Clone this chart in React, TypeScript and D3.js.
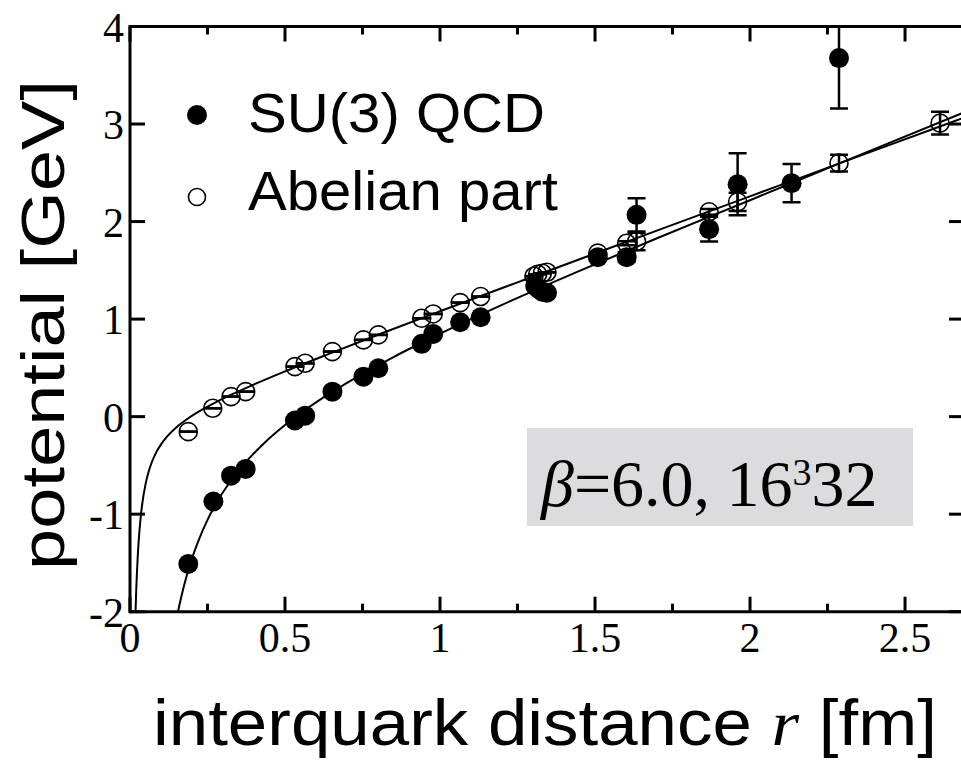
import React from 'react';
import * as d3 from 'd3';

// lattice data: r [fm], V [GeV], error [GeV]
const su3R = [0.188, 0.269, 0.326, 0.373, 0.532, 0.565, 0.653, 0.753, 0.801, 0.941, 0.978, 1.065, 1.131, 1.307, 1.318, 1.33, 1.345, 1.509, 1.602, 1.634, 1.868, 1.96, 2.134, 2.287];
const su3V = [-1.51, -0.87, -0.605, -0.536, -0.04, 0.01, 0.256, 0.41, 0.496, 0.746, 0.848, 0.968, 1.019, 1.34, 1.31, 1.28, 1.27, 1.635, 1.635, 2.069, 1.922, 2.383, 2.394, 3.676];
const su3Err = [0, 0, 0, 0, 0, 0, 0, 0, 0, 0, 0, 0, 0, 0, 0, 0, 0, 0.03, 0.05, 0.17, 0.127, 0.318, 0.197, 0.518];

const abelR = [0.188, 0.267, 0.326, 0.373, 0.532, 0.565, 0.653, 0.753, 0.801, 0.941, 0.978, 1.065, 1.131, 1.303, 1.315, 1.33, 1.345, 1.509, 1.602, 1.634, 1.868, 1.96, 2.287, 2.613];
const abelV = [-0.154, 0.086, 0.205, 0.256, 0.513, 0.547, 0.667, 0.787, 0.838, 1.009, 1.053, 1.169, 1.231, 1.44, 1.46, 1.47, 1.48, 1.676, 1.778, 1.795, 2.1, 2.202, 2.599, 3.009];
const abelErr = [0, 0, 0, 0, 0, 0, 0, 0, 0, 0, 0, 0, 0, 0, 0, 0, 0, 0, 0.02, 0.09, 0.03, 0.094, 0.085, 0.116];

// fit curves
const su3FitR = [0.155, 0.16, 0.17, 0.18, 0.19, 0.2, 0.22, 0.25, 0.28, 0.32, 0.37, 0.43, 0.5, 0.6, 0.7, 0.85, 1.0, 1.2, 1.45, 1.7, 2.0, 2.3, 2.687];
const su3FitV = [-1.996, -1.923, -1.787, -1.665, -1.555, -1.454, -1.278, -1.058, -0.878, -0.68, -0.479, -0.28, -0.086, 0.146, 0.346, 0.611, 0.85, 1.146, 1.495, 1.829, 2.219, 2.612, 3.115];
const abelFitR = [0.018, 0.02, 0.022, 0.025, 0.03, 0.035, 0.04, 0.05, 0.06, 0.07, 0.085, 0.1, 0.12, 0.15, 0.18, 0.22, 0.27, 0.33, 0.4, 0.5, 0.65, 0.8, 1.0, 1.25, 1.5, 1.8, 2.1, 2.4, 2.687];
const abelFitV = [-1.989, -1.79, -1.627, -1.431, -1.19, -1.015, -0.883, -0.695, -0.566, -0.47, -0.364, -0.284, -0.202, -0.108, -0.034, 0.049, 0.136, 0.23, 0.33, 0.464, 0.654, 0.839, 1.08, 1.377, 1.673, 2.025, 2.376, 2.727, 3.062];

const xMajor = [0, 0.5, 1, 1.5, 2, 2.5];
const xMinor = [0.25, 0.75, 1.25, 1.75, 2.25];
const xLabels = ['0', '0.5', '1', '1.5', '2', '2.5'];
const yMajor = [-2, -1, 0, 1, 2, 3, 4];
const yLabels = ['-2', '-1', '0', '1', '2', '3', '4'];

const W = 961;
const H = 760;
const serif = '"Liberation Serif", "Times New Roman", serif';
const sans = '"Liberation Sans", Arial, sans-serif';

const App = () => {
    const x = d3.scaleLinear().domain([0, 2.687]).range([130, 963]);
    const y = d3.scaleLinear().domain([-2, 4]).range([611.7, 26.5]);
    const [x0, x1] = x.range();
    const [yb, yt] = y.range();

    const line = d3.line<[number, number]>()
        .x(d => x(d[0]))
        .y(d => y(d[1]))
        .curve(d3.curveMonotoneX);

    const su3Fit = su3FitR.map((r, i) => [r, su3FitV[i]] as [number, number]);
    const abelFit = abelFitR.map((r, i) => [r, abelFitV[i]] as [number, number]);

    const errBar = (r: number, v: number, e: number, key: string) => {
        const cx = x(r);
        const top = y(v + e);
        const bot = y(v - e);
        return (
            <g key={key} stroke="#000" strokeWidth={2.5}>
                {e > 0 && <line x1={cx} x2={cx} y1={top} y2={bot} />}
                <line x1={cx - 9} x2={cx + 9} y1={top} y2={top} />
                <line x1={cx - 9} x2={cx + 9} y1={bot} y2={bot} />
            </g>
        );
    };

    return (
        <svg width={W} height={H} style={{ position: 'absolute', left: 0, top: 0, background: '#fff' }}>
            <defs>
                <clipPath id="plotArea">
                    <rect x={x0} y={yt} width={x1 - x0} height={yb - yt} />
                </clipPath>
            </defs>

            {/* label box */}
            <rect x={527} y={428} width={386} height={98} fill="rgb(220,220,222)" />
            <text x={541} y={506} fontFamily={serif} fontSize={66} fill="#000">
                <tspan fontStyle="italic">β</tspan>
                <tspan>=6.0, 16</tspan>
                <tspan fontSize={38} dy={-21}>3</tspan>
                <tspan dy={21}>32</tspan>
            </text>

            <g clipPath="url(#plotArea)">
                <path d={line(abelFit) ?? ''} fill="none" stroke="#000" strokeWidth={2} />
                <path d={line(su3Fit) ?? ''} fill="none" stroke="#000" strokeWidth={2} />

                {abelR.map((r, i) => errBar(r, abelV[i], abelErr[i], `ae${i}`))}
                {abelR.map((r, i) => (
                    <circle key={`ac${i}`} cx={x(r)} cy={y(abelV[i])} r={9} fill="none" stroke="#000" strokeWidth={1.6} />
                ))}

                {su3R.map((r, i) => su3Err[i] > 0 ? errBar(r, su3V[i], su3Err[i], `se${i}`) : null)}
                {su3R.map((r, i) => (
                    <circle key={`sc${i}`} cx={x(r)} cy={y(su3V[i])} r={10} fill="#000" />
                ))}
            </g>

            {/* frame */}
            <g stroke="#000" strokeWidth={3} fill="none">
                <line x1={x0} x2={x1} y1={yb} y2={yb} />
                <line x1={x0} x2={x1} y1={yt} y2={yt} />
                <line x1={x0} x2={x0} y1={yt - 1.5} y2={yb + 1.5} />
                <line x1={x1} x2={x1} y1={yt} y2={yb} />
                {xMajor.map(t => (
                    <g key={`xm${t}`}>
                        <line x1={x(t)} x2={x(t)} y1={yb} y2={yb - 15} />
                        <line x1={x(t)} x2={x(t)} y1={yt} y2={yt + 15} />
                    </g>
                ))}
                {xMinor.map(t => (
                    <g key={`xn${t}`}>
                        <line x1={x(t)} x2={x(t)} y1={yb} y2={yb - 8} />
                        <line x1={x(t)} x2={x(t)} y1={yt} y2={yt + 8} />
                    </g>
                ))}
                {yMajor.map(t => (
                    <g key={`ym${t}`}>
                        <line x1={x0} x2={x0 + 15} y1={y(t)} y2={y(t)} />
                        <line x1={x1} x2={x1 - 14} y1={y(t)} y2={y(t)} />
                    </g>
                ))}
            </g>

            {/* tick labels */}
            {xMajor.map((t, i) => (
                <text key={`xl${t}`} x={x(t)} y={652} textAnchor="middle" fontFamily={serif} fontSize={42} fill="#000">
                    {xLabels[i]}
                </text>
            ))}
            {yMajor.map((t, i) => (
                <text key={`yl${t}`} x={124} y={y(t) + 15} textAnchor="end" fontFamily={serif} fontSize={42} fill="#000">
                    {yLabels[i]}
                </text>
            ))}

            {/* legend */}
            <circle cx={197} cy={115} r={10} fill="#000" />
            <text x={248} y={132} fontFamily={sans} fontSize={56} textLength={297} lengthAdjust="spacingAndGlyphs" fill="#000">
                SU(3) QCD
            </text>
            <circle cx={197} cy={197} r={8.5} fill="none" stroke="#000" strokeWidth={1.6} />
            <text x={248} y={210} fontFamily={sans} fontSize={56} textLength={310} lengthAdjust="spacingAndGlyphs" fill="#000">
                Abelian part
            </text>

            {/* axis titles */}
            <text x={153} y={745} fontFamily={sans} fontSize={64} textLength={784} lengthAdjust="spacingAndGlyphs" fill="#000">
                interquark distance <tspan fontFamily={serif} fontStyle="italic">r</tspan> [fm]
            </text>
            <text
                transform="translate(64,570) rotate(-90)"
                fontFamily={sans}
                fontSize={62}
                textLength={490}
                lengthAdjust="spacingAndGlyphs"
                fill="#000"
            >
                potential [GeV]
            </text>
        </svg>
    );
};

export default App;
